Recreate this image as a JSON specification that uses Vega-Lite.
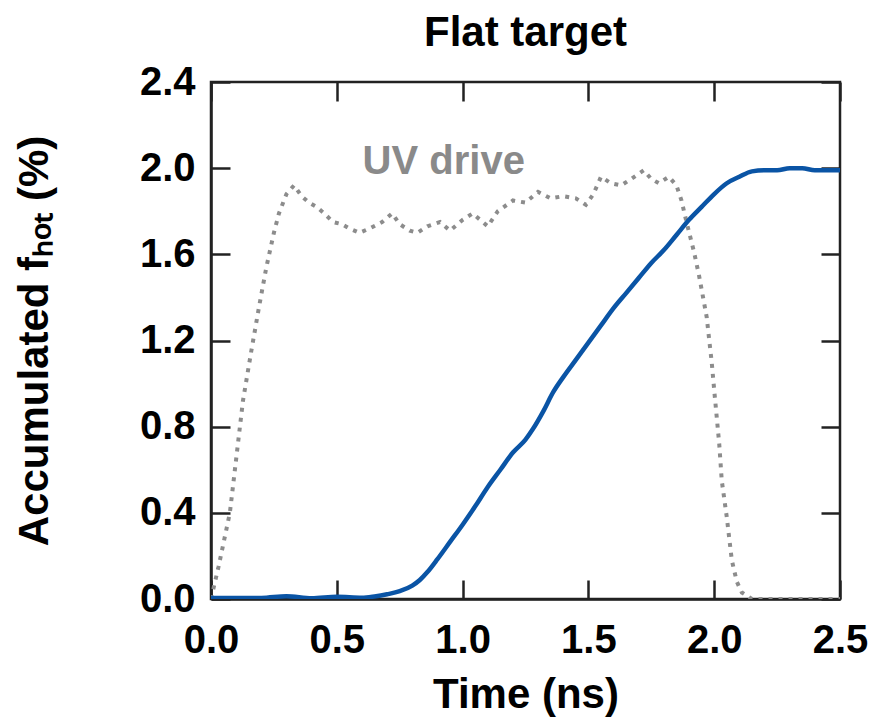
{
  "$schema": "https://vega.github.io/schema/vega-lite/v6.json",
  "width": 629,
  "height": 517,
  "autosize": {"type": "none"},
  "padding": {"left": 211, "top": 82, "right": 33, "bottom": 120},
  "background": "white",
  "config": {
    "view": {"stroke": "#222222", "strokeWidth": 2.5},
    "font": "Liberation Sans",
    "axis": {
      "grid": false,
      "domainColor": "#222222",
      "domainWidth": 2.5,
      "tickColor": "#222222",
      "tickWidth": 2.5,
      "tickSize": -19,
      "labelFlush": false,
      "labelOverlap": false,
      "labelFont": "Liberation Sans",
      "labelFontWeight": "bold",
      "labelFontSize": 40,
      "labelColor": "#000000",
      "titleFont": "Liberation Sans",
      "titleFontWeight": "bold",
      "titleFontSize": 42,
      "titleColor": "#000000"
    }
  },
  "title": {
    "text": "Flat target",
    "font": "Liberation Sans",
    "fontSize": 42,
    "fontWeight": "bold",
    "color": "#000000",
    "anchor": "middle",
    "offset": 7
  },
  "datasets": {
    "uv": [
      {"t": 0.0, "v": 0.0}, {"t": 0.03, "v": 0.15}, {"t": 0.075, "v": 0.40}, {"t": 0.10, "v": 0.65},
      {"t": 0.127, "v": 0.92}, {"t": 0.16, "v": 1.15}, {"t": 0.19, "v": 1.35}, {"t": 0.22, "v": 1.54},
      {"t": 0.25, "v": 1.70}, {"t": 0.27, "v": 1.79}, {"t": 0.30, "v": 1.88}, {"t": 0.33, "v": 1.92},
      {"t": 0.36, "v": 1.87}, {"t": 0.39, "v": 1.84}, {"t": 0.42, "v": 1.82}, {"t": 0.45, "v": 1.79},
      {"t": 0.485, "v": 1.75}, {"t": 0.52, "v": 1.74}, {"t": 0.55, "v": 1.72}, {"t": 0.59, "v": 1.70},
      {"t": 0.63, "v": 1.72}, {"t": 0.68, "v": 1.75}, {"t": 0.72, "v": 1.79}, {"t": 0.75, "v": 1.74},
      {"t": 0.79, "v": 1.71}, {"t": 0.82, "v": 1.70}, {"t": 0.86, "v": 1.73}, {"t": 0.91, "v": 1.75},
      {"t": 0.95, "v": 1.71}, {"t": 1.00, "v": 1.76}, {"t": 1.04, "v": 1.79}, {"t": 1.07, "v": 1.76},
      {"t": 1.10, "v": 1.73}, {"t": 1.14, "v": 1.80}, {"t": 1.20, "v": 1.85}, {"t": 1.25, "v": 1.84},
      {"t": 1.30, "v": 1.89}, {"t": 1.35, "v": 1.86}, {"t": 1.40, "v": 1.87}, {"t": 1.45, "v": 1.86},
      {"t": 1.49, "v": 1.83}, {"t": 1.52, "v": 1.88}, {"t": 1.55, "v": 1.96}, {"t": 1.59, "v": 1.93},
      {"t": 1.63, "v": 1.92}, {"t": 1.67, "v": 1.95}, {"t": 1.72, "v": 1.99}, {"t": 1.75, "v": 1.95},
      {"t": 1.78, "v": 1.93}, {"t": 1.82, "v": 1.96}, {"t": 1.85, "v": 1.92}, {"t": 1.87, "v": 1.85},
      {"t": 1.89, "v": 1.75}, {"t": 1.92, "v": 1.61}, {"t": 1.94, "v": 1.50}, {"t": 1.97, "v": 1.31},
      {"t": 1.99, "v": 1.10}, {"t": 2.00, "v": 0.97}, {"t": 2.02, "v": 0.72}, {"t": 2.03, "v": 0.55},
      {"t": 2.05, "v": 0.38}, {"t": 2.07, "v": 0.18}, {"t": 2.09, "v": 0.08}, {"t": 2.11, "v": 0.03},
      {"t": 2.15, "v": 0.0}, {"t": 2.5, "v": 0.0}
    ],
    "hot": [
      {"t": 0.0, "v": 0.005}, {"t": 0.2, "v": 0.005}, {"t": 0.3, "v": 0.013}, {"t": 0.4, "v": 0.003},
      {"t": 0.5, "v": 0.01}, {"t": 0.6, "v": 0.006}, {"t": 0.65, "v": 0.012}, {"t": 0.7, "v": 0.022},
      {"t": 0.75, "v": 0.036}, {"t": 0.8, "v": 0.062}, {"t": 0.83, "v": 0.088}, {"t": 0.86, "v": 0.125},
      {"t": 0.9, "v": 0.185}, {"t": 0.95, "v": 0.265}, {"t": 1.0, "v": 0.345}, {"t": 1.05, "v": 0.43},
      {"t": 1.1, "v": 0.52}, {"t": 1.15, "v": 0.60}, {"t": 1.2, "v": 0.68}, {"t": 1.25, "v": 0.74},
      {"t": 1.28, "v": 0.79}, {"t": 1.32, "v": 0.87}, {"t": 1.36, "v": 0.96}, {"t": 1.4, "v": 1.03},
      {"t": 1.45, "v": 1.11}, {"t": 1.5, "v": 1.19}, {"t": 1.55, "v": 1.27}, {"t": 1.6, "v": 1.35},
      {"t": 1.65, "v": 1.42}, {"t": 1.7, "v": 1.49}, {"t": 1.75, "v": 1.56}, {"t": 1.8, "v": 1.62},
      {"t": 1.85, "v": 1.69}, {"t": 1.9, "v": 1.76}, {"t": 1.95, "v": 1.82}, {"t": 2.0, "v": 1.88},
      {"t": 2.05, "v": 1.93}, {"t": 2.1, "v": 1.96}, {"t": 2.15, "v": 1.985}, {"t": 2.2, "v": 1.99},
      {"t": 2.25, "v": 1.99}, {"t": 2.3, "v": 2.0}, {"t": 2.35, "v": 2.0}, {"t": 2.4, "v": 1.99},
      {"t": 2.5, "v": 1.99}
    ],
    "label": [
      {"t": 0.925, "v": 2.03, "text": "UV drive"}
    ]
  },
  "layer": [
    {
      "data": {"name": "uv"},
      "mark": {"type": "line", "color": "#8c8c8c", "strokeWidth": 4, "strokeDash": [4, 6], "clip": true},
      "encoding": {
        "x": {
          "field": "t", "type": "quantitative",
          "scale": {"domain": [0, 2.5], "nice": false},
          "axis": {
            "title": "Time (ns)",
            "values": [0, 0.5, 1, 1.5, 2, 2.5],
            "format": ".1f",
            "labelPadding": 40,
            "titlePadding": 14
          }
        },
        "y": {
          "field": "v", "type": "quantitative",
          "scale": {"domain": [0, 2.4], "nice": false},
          "axis": {
            "title": "Accumulated fₕₒₜ (%)",
            "values": [0, 0.4, 0.8, 1.2, 1.6, 2.0, 2.4],
            "format": ".1f",
            "labelPadding": 35,
            "titlePadding": 83
          }
        }
      }
    },
    {
      "data": {"name": "hot"},
      "mark": {"type": "line", "color": "#0a54a5", "strokeWidth": 4.5, "interpolate": "monotone", "clip": true},
      "encoding": {
        "x": {
          "field": "t", "type": "quantitative",
          "axis": {"orient": "top", "title": null, "labels": false, "domain": false, "values": [0, 0.5, 1, 1.5, 2, 2.5]}
        },
        "y": {
          "field": "v", "type": "quantitative",
          "axis": {"orient": "right", "title": null, "labels": false, "domain": false, "values": [0, 0.4, 0.8, 1.2, 1.6, 2.0, 2.4]}
        }
      }
    },
    {
      "data": {"name": "label"},
      "mark": {"type": "text", "color": "#8a8a8a", "fontSize": 40, "fontWeight": "bold", "font": "Liberation Sans", "align": "center", "baseline": "middle"},
      "encoding": {
        "x": {"field": "t", "type": "quantitative", "axis": null},
        "y": {"field": "v", "type": "quantitative", "axis": null},
        "text": {"field": "text"}
      }
    }
  ],
  "resolve": {"axis": {"x": "independent", "y": "independent"}}
}
